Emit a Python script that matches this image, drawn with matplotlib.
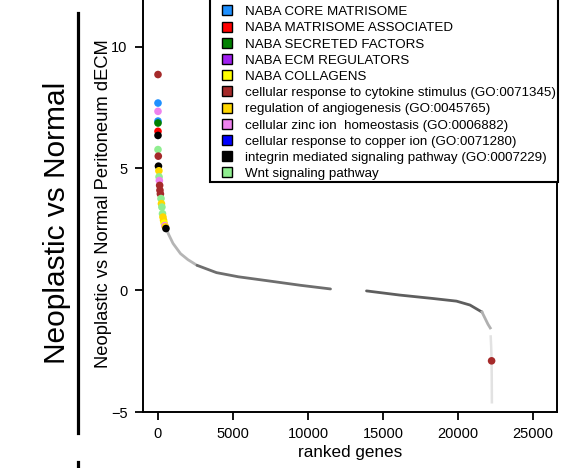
import numpy as np
import matplotlib.pyplot as plt
from matplotlib.lines import Line2D

plt.rcParams['font.family'] = ['Liberation Sans', 'DejaVu Sans']

# legend categories and their colours
categories = [
    "NABA CORE MATRISOME",
    "NABA MATRISOME ASSOCIATED",
    "NABA SECRETED FACTORS",
    "NABA ECM REGULATORS",
    "NABA COLLAGENS",
    "cellular response to cytokine stimulus (GO:0071345)",
    "regulation of angiogenesis (GO:0045765)",
    "cellular zinc ion  homeostasis (GO:0006882)",
    "cellular response to copper ion (GO:0071280)",
    "integrin mediated signaling pathway (GO:0007229)",
    "Wnt signaling pathway",
]
cat_colors = ["#1E90FF", "#FF0000", "#008000", "#A020F0", "#FFFF00",
              "#A52A2A", "#FFD700", "#EE82EE", "#0000FF", "#000000", "#90EE90"]

# ranked curve (all genes)
rank_a = [550, 700, 1000, 1500, 2000, 2600]
value_a = [2.55, 2.3, 1.92, 1.5, 1.25, 1.02]
rank_b = [2600, 3900, 5350, 7500, 9500, 11500]
value_b = [1.02, 0.72, 0.55, 0.37, 0.2, 0.05]
rank_c = [13900, 16100, 18300, 19900, 20800, 21600]
value_c = [-0.03, -0.2, -0.34, -0.45, -0.61, -0.9]
rank_d = [21600, 22000, 22150]
value_d = [-0.9, -1.4, -1.55]
rank_e = [22180, 22210, 22240, 22250, 22260]
value_e = [-1.9, -2.3, -2.9, -3.6, -4.6]

# highlighted genes: rank, value, category index
hl_rank = [0, 0, 0, 0, 0, 0, 0, 0, 20, 30, 60, 70, 90, 110, 130,
           160, 200, 230, 260, 300, 330, 370, 410, 450, 490, 530, 22240]
hl_value = [8.85, 7.68, 7.34, 6.94, 6.86, 6.52, 6.35, 5.77, 5.5, 5.09,
            4.9, 4.65, 4.5, 4.3, 4.1, 3.95, 3.76, 3.55, 3.41, 3.14,
            3.0, 2.87, 2.75, 2.65, 2.6, 2.53, -2.9]
hl_cat = [5, 0, 7, 0, 2, 1, 9, 10, 5, 9, 6, 10, 7, 5, 5, 5, 10, 6, 10,
          10, 6, 6, 4, 7, 6, 9, 5]

fig = plt.figure(figsize=(5.65, 4.68), dpi=100)
ax = fig.add_axes([143 / 565, 56 / 468, 414 / 565, 413 / 468])

ax.plot(rank_a, value_a, color="#b5b5b5", lw=2.0, solid_capstyle="round", zorder=2)
ax.plot(rank_b, value_b, color="#6e6e6e", lw=2.0, solid_capstyle="round", zorder=2)
ax.plot(rank_c, value_c, color="#5e5e5e", lw=2.0, solid_capstyle="round", zorder=2)
ax.plot(rank_d, value_d, color="#b0b0b0", lw=2.0, zorder=2)
ax.plot(rank_e, value_e, color="#e2e2e2", lw=1.8, zorder=2)

ax.scatter(hl_rank, hl_value, c=[cat_colors[i] for i in hl_cat], s=30,
           linewidths=0, zorder=3)

ax.set_xlim(-1000, 26600)
ax.set_ylim(-5, 11.95)
ax.set_xticks([0, 5000, 10000, 15000, 20000, 25000])
ax.set_yticks([-5, 0, 5, 10])
ax.set_yticklabels(["\u22125", "0", "5", "10"])
ax.tick_params(direction="out", length=6, width=1.3, labelsize=10.5, pad=5)
for s in ax.spines.values():
    s.set_linewidth(1.4)

ax.set_xlabel("ranked genes", fontsize=12.3, labelpad=3)
ax.set_ylabel("Neoplastic vs Normal Peritoneum dECM", fontsize=13.2)
ax.yaxis.set_label_coords(-0.076, 0.505)

handles = [Line2D([], [], marker="s", ls="none", markersize=7.5,
                  markerfacecolor=c, markeredgecolor="black", markeredgewidth=1)
           for c in cat_colors]
leg = ax.legend(handles, categories, title=" ", loc="lower right",
                bbox_to_anchor=(558 / 565, (468 - 182) / 468),
                bbox_transform=fig.transFigure, borderaxespad=0,
                fontsize=9.6, title_fontsize=9.6, labelspacing=0.29,
                handletextpad=0.2, handlelength=2.3, borderpad=0.14,
                fancybox=False, edgecolor="black", framealpha=1)
leg.get_frame().set_linewidth(1.5)

fig.text(57 / 565, 1 - 223 / 468, "Neoplastic vs Normal", rotation=90,
         fontsize=21.5, ha="center", va="center")
fig.add_artist(Line2D([78 / 565, 78 / 565], [1 - 13 / 468, 1 - 433 / 468],
                      color="black", lw=2.3))
fig.add_artist(Line2D([78 / 565, 78 / 565], [1 - 462 / 468, 0],
                      color="black", lw=2.3))

fig.savefig("out.png", dpi=100)
